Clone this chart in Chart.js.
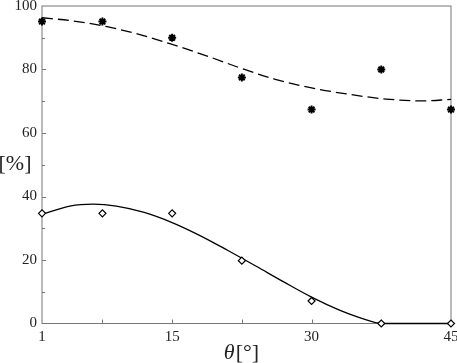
<!DOCTYPE html>
<html>
<head>
<meta charset="utf-8">
<script src="https://cdn.jsdelivr.net/npm/chart.js@4"></script>
<style>
  html, body { margin: 0; padding: 0; background: #fff; }
  #wrap { width: 457px; height: 363px; }
</style>
</head>
<body>
<div id="wrap"><canvas id="chart"></canvas></div>
<script>
// measured points
const angles = [1, 7.5, 15, 22.5, 30, 37.5, 45];
const upperPoints = [95.1, 95.1, 90, 77.5, 67.4, 80, 67.4];
const lowerPoints = [34.7, 34.7, 34.7, 19.8, 7.1, 0, 0];

// fitted curves
const upperFitX = [1, 4, 8, 12, 15, 19, 22.5, 26, 30, 34, 38, 42, 45];
const upperFitY = [96.3, 95.4, 93.5, 90.6, 87.9, 84.0, 80.3, 77.0, 74.2, 72.2, 70.7, 70.1, 70.6];
const lowerFitX = [1, 4, 6.5, 9, 12, 15, 18, 21, 24, 27, 30, 33, 35, 37, 38, 45];
const lowerFitY = [34.4, 37.0, 37.6, 37.0, 35.0, 31.8, 27.7, 23.0, 18.1, 13.1, 8.3, 4.2, 2.0, 0.2, 0, 0];

// axis ticks
const xTicks = [1, 15, 30, 45];
const xMinorTicks = [7.5, 22.5, 37.5];
const yTicks = [0, 20, 40, 60, 80, 100];
const yMinorTicks = [10, 30, 50, 70, 90];

const AXIS_COLOR = "#777";
const FONT = "'Liberation Serif', 'Times New Roman', serif";

function pairs(xs, ys) {
  return xs.map((x, i) => ({ x: x, y: ys[i] }));
}

// frame, inward ticks and axis titles
const framePlugin = {
  id: "frame",
  beforeDatasetsDraw(chart) {
    const { ctx, chartArea: a, scales } = chart;
    ctx.save();
    ctx.strokeStyle = AXIS_COLOR;
    ctx.lineWidth = 1;
    ctx.strokeRect(a.left, a.top, a.right - a.left, a.bottom - a.top);
    ctx.beginPath();
    yTicks.slice(1, -1).forEach((v) => {
      const y = Math.round(scales.y.getPixelForValue(v)) + 0.5;
      ctx.moveTo(a.left, y);
      ctx.lineTo(a.left + 4, y);
    });
    yMinorTicks.forEach((v) => {
      const y = Math.round(scales.y.getPixelForValue(v)) + 0.5;
      ctx.moveTo(a.left, y);
      ctx.lineTo(a.left + 3, y);
    });
    xTicks.slice(1, -1).concat(xMinorTicks).forEach((v) => {
      const x = Math.round(scales.x.getPixelForValue(v)) + 0.5;
      ctx.moveTo(x, a.bottom);
      ctx.lineTo(x, a.bottom - 4);
    });
    ctx.stroke();
    ctx.restore();
  },
  afterDraw(chart) {
    const { ctx } = chart;
    ctx.save();
    ctx.fillStyle = "#222";
    ctx.textBaseline = "alphabetic";
    ctx.font = "22px " + FONT;
    ctx.textAlign = "center";
    ctx.fillText("[%]", 15, 170);

    // θ[°]
    const italic = "italic 22px " + FONT;
    const normal = "22px " + FONT;
    ctx.font = italic;
    const w1 = ctx.measureText("θ").width;
    ctx.font = normal;
    const w2 = ctx.measureText("[°]").width;
    const start = 241 - (w1 + w2) / 2;
    ctx.textAlign = "left";
    ctx.font = italic;
    ctx.fillText("θ", start, 359);
    ctx.font = normal;
    ctx.fillText("[°]", start + w1 + 1, 359);
    ctx.restore();
  }
};

const ctx = document.getElementById("chart").getContext("2d");
new Chart(ctx, {
  type: "scatter",
  data: {
    datasets: [
      {
        data: pairs(angles, upperPoints),
        pointStyle: "star",
        pointRadius: 4,
        borderWidth: 2,
        borderColor: "#000",
        backgroundColor: "#000",
        showLine: false,
        clip: false,
        order: 1
      },
      {
        data: pairs(angles, lowerPoints),
        pointStyle: "rectRot",
        pointRadius: 3.5,
        borderWidth: 1.2,
        borderColor: "#000",
        backgroundColor: "#fff",
        showLine: false,
        clip: false,
        order: 1
      },
      {
        data: pairs(upperFitX, upperFitY),
        showLine: true,
        pointRadius: 0,
        borderColor: "#000",
        borderWidth: 1.3,
        borderDash: [11, 5],
        cubicInterpolationMode: "monotone",
        order: 2
      },
      {
        data: pairs(lowerFitX, lowerFitY),
        showLine: true,
        pointRadius: 0,
        borderColor: "#000",
        borderWidth: 1.3,
        cubicInterpolationMode: "monotone",
        clip: 2,
        order: 2
      }
    ]
  },
  options: {
    responsive: true,
    maintainAspectRatio: false,
    animation: false,
    layout: { padding: { top: 2.5, right: 6, left: 0, bottom: 0 } },
    plugins: {
      legend: { display: false },
      tooltip: { enabled: false }
    },
    scales: {
      x: {
        type: "linear",
        min: 1,
        max: 45,
        afterBuildTicks: (s) => { s.ticks = xTicks.map((v) => ({ value: v })); },
        afterFit: (s) => {
          s.height = 39.5;
          s.paddingLeft = 0;
          s.paddingRight = 0;
        },
        grid: { display: false, drawTicks: false },
        border: { display: false },
        ticks: {
          padding: 5,
          maxRotation: 0,
          color: "#222",
          font: { family: FONT, size: 15 }
        }
      },
      y: {
        min: 0,
        max: 100,
        afterBuildTicks: (s) => { s.ticks = yTicks.map((v) => ({ value: v })); },
        afterFit: (s) => {
          s.width = 42;
          s.paddingTop = 0;
          s.paddingBottom = 0;
        },
        grid: { display: false, drawTicks: false },
        border: { display: false },
        ticks: {
          padding: 5,
          color: "#222",
          font: { family: FONT, size: 15 }
        }
      }
    }
  },
  plugins: [framePlugin]
});
</script>
</body>
</html>
